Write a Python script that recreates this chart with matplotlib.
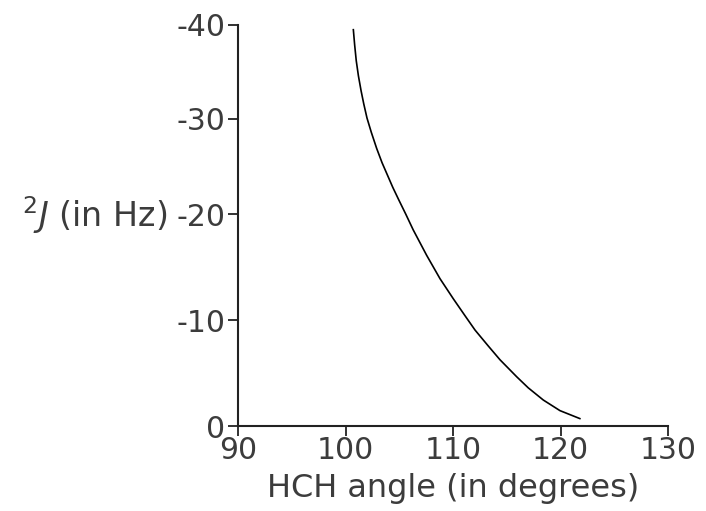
import numpy as np
import matplotlib
matplotlib.use('Agg')
import matplotlib.pyplot as plt

plt.rcParams['font.family'] = 'DejaVu Sans'
plt.rcParams['axes.unicode_minus'] = False

# data
hch_angle = [100.73, 100.85, 101.0, 101.2, 101.45, 101.7, 102.0, 102.4,
             102.9, 103.4, 103.9, 104.4, 104.95, 105.6, 106.3, 107.55,
             108.79, 110.03, 111.12, 112.05, 113.28, 114.37, 115.92,
             117.0, 118.4, 119.95, 121.8]
j2_hz = [-39.5, -37.9, -36.2, -34.6, -33.0, -31.6, -30.1, -28.6,
         -26.9, -25.4, -24.1, -22.8, -21.5, -20.0, -18.5, -16.1,
         -13.9, -12.0, -10.4, -9.05, -7.55, -6.25, -4.65,
         -3.6, -2.45, -1.45, -0.7]

x_ticks = [90, 100, 110, 120, 130]
y_ticks = [0, -10, -20, -30, -40]

# the y axis of the original is not evenly spaced: tick value -> relative height
y_cal_val = [-50, -40, -30, -20, -10, 0, 10]
y_cal_pos = [-495, -401, -307, -212, -106, 0, 106]


def y_fwd(v):
    return np.interp(v, y_cal_val, y_cal_pos)


def y_inv(p):
    return np.interp(p, y_cal_pos, y_cal_val)


fig = plt.figure(figsize=(7.06, 5.11), dpi=100)
ax = fig.add_axes([238 / 706, 85 / 511, 430 / 706, 401 / 511])

ax.plot(hch_angle, j2_hz, color='black', lw=1.2)

ax.set_yscale('function', functions=(y_fwd, y_inv))
ax.set_xlim(90, 130)
ax.set_ylim(0, -40)
ax.set_xticks(x_ticks)
ax.set_yticks(y_ticks)
ax.set_yticklabels([str(t) for t in y_ticks])
ax.minorticks_off()

for s in ['top', 'right']:
    ax.spines[s].set_visible(False)
for s in ['left', 'bottom']:
    ax.spines[s].set_linewidth(1.5)
    ax.spines[s].set_color('#222222')

txt_col = '#3c3c3c'
ax.tick_params(axis='both', direction='out', length=7, width=1.3,
               color='#222222', labelsize=21.5, labelcolor=txt_col, pad=2)
ax.tick_params(axis='x', pad=0)

ax.set_xlabel('HCH angle (in degrees)', fontsize=23, color=txt_col, labelpad=6)
ax.set_ylabel(r'$^{2}\mathit{J}$ (in Hz)', fontsize=24, color=txt_col,
              rotation=0, ha='right', va='center')
ax.yaxis.set_label_coords(-0.163, 0.525)

fig.savefig('out.png', dpi=100)
